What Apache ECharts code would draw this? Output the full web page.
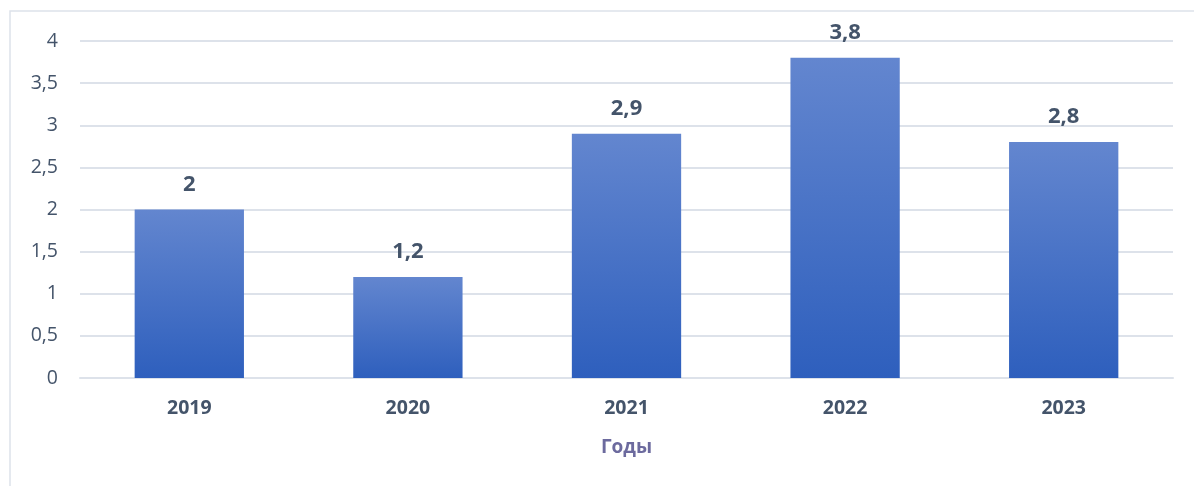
<!DOCTYPE html>
<html><head><meta charset="utf-8">
<script src="https://cdn.jsdelivr.net/npm/echarts@6/dist/echarts.min.js"></script>
<style>html,body{margin:0;padding:0;background:#fff}#c{width:1194px;height:486px}</style>
</head><body><div id="c"></div>
<script>
const categories = ['2019', '2020', '2021', '2022', '2023'];
const values = [2, 1.2, 2.9, 3.8, 2.8];
const axisName = 'Годы';
const fmt = v => String(v).replace('.', ',');
const chart = echarts.init(document.getElementById('c'));
chart.setOption({
  animation: false,
  textStyle: { fontFamily: 'Open Sans' },
  graphic: [{ type: 'rect', shape: { x: 10, y: 11, width: 1300, height: 600 }, style: { fill: 'none', stroke: '#dde2ea', lineWidth: 1.5 }, silent: true }],
  grid: { left: 80, right: 21, top: 41, bottom: 108 },
  xAxis: {
    type: 'category', data: categories,
    axisLine: { show: true, lineStyle: { color: '#dde2ea', width: 2 } },
    axisTick: { show: false },
    axisLabel: { color: '#44546a', fontSize: 19.5, fontWeight: 'bold', margin: 20 },
    name: axisName, nameLocation: 'middle', nameGap: 60,
    nameTextStyle: { color: '#6c6a9e', fontSize: 19, fontWeight: 'bold' }
  },
  yAxis: {
    type: 'value', min: 0, max: 4, interval: 0.5,
    axisLine: { show: false }, axisTick: { show: false },
    splitLine: { lineStyle: { color: '#dde2ea', width: 2 } },
    axisLabel: { color: '#44546a', fontSize: 19.5, margin: 22, formatter: fmt }
  },
  series: [{
    type: 'bar', data: values, barWidth: '50%',
    itemStyle: { color: new echarts.graphic.LinearGradient(0, 0, 0, 1, [{ offset: 0, color: '#6386cf' }, { offset: 1, color: '#2e5fbd' }]) },
    label: { show: true, position: 'top', distance: 14, color: '#44546a', fontSize: 22, fontWeight: 'bold', formatter: p => fmt(p.value) }
  }]
});
</script></body></html>
